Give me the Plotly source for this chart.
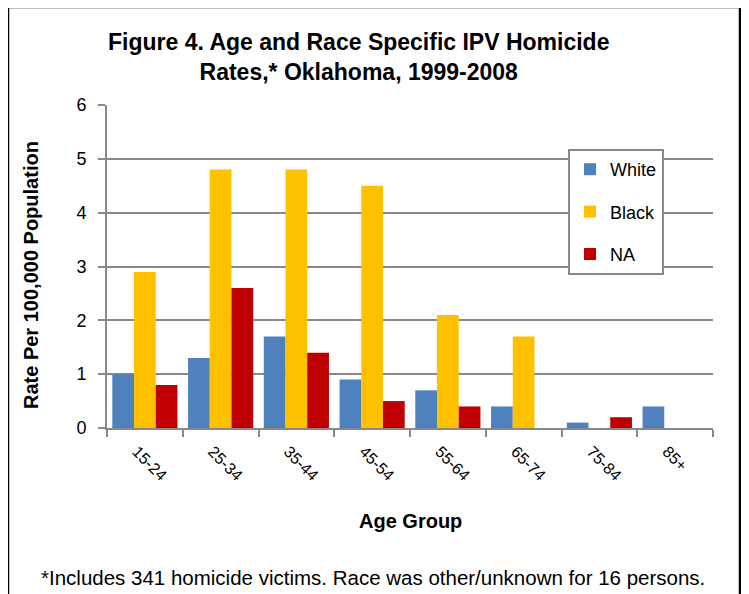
import plotly.graph_objects as go

categories = ["15-24", "25-34", "35-44", "45-54", "55-64", "65-74", "75-84", "85+"]
white = [1.0, 1.3, 1.7, 0.9, 0.7, 0.4, 0.1, 0.4]
black = [2.9, 4.8, 4.8, 4.5, 2.1, 1.7, 0, 0]
na = [0.8, 2.6, 1.4, 0.5, 0.4, 0, 0.2, 0]
series_names = ["White", "Black", "NA"]
series_colors = ["#4F81BD", "#FFC000", "#C00000"]
y_ticks = [0, 1, 2, 3, 4, 5, 6]

FONT = "Liberation Sans Narrow, Arial Narrow, Liberation Sans, Arial, sans-serif"
GRID = "#898989"

fig = go.Figure()
for name, vals, col in zip(series_names, [white, black, na], series_colors):
    fig.add_trace(go.Bar(
        x=categories, y=vals, name=name, legendgroup=name,
        marker=dict(color=col, line=dict(width=0)),
    ))

W, H = 749, 594
OFF = 8  # page body margin offset
L, R, T, B = 107, 713, 105, 428
pw, ph = R - L, B - T

def px(x):
    return (x - L) / pw

def py(y):
    return (B - y) / ph

fig.update_layout(
    width=W, height=H,
    margin=dict(l=L - OFF, r=W - R + OFF, t=T - OFF, b=H - B + OFF),
    paper_bgcolor="white", plot_bgcolor="white",
    font=dict(family=FONT, color="black", size=16),
    barmode="group", bargap=0.14, bargroupgap=0,
    showlegend=True,
    legend=dict(
        x=px(568), y=py(149), xanchor="left", yanchor="top",
        bgcolor="white", bordercolor=GRID, borderwidth=2,
        font=dict(family=FONT, size=18, color="black"),
        traceorder="grouped", tracegroupgap=16, itemwidth=30,
    ),
    xaxis=dict(
        type="category", showline=True, linecolor=GRID, linewidth=2,
        ticks="outside", tickson="boundaries", ticklen=7, tickcolor=GRID, tickwidth=2,
        tickangle=45, tickfont=dict(family=FONT, size=16),
        showgrid=False, ticklabelshift=-8, ticklabelstandoff=6,
    ),
    yaxis=dict(
        range=[0, 6], tickvals=y_ticks, showline=True, linecolor=GRID, linewidth=2,
        ticks="outside", ticklen=7, tickcolor=GRID, tickwidth=2,
        showgrid=True, gridcolor=GRID, gridwidth=2, zeroline=False,
        tickfont=dict(family=FONT, size=18), ticklabelstandoff=8,
    ),
    shapes=[dict(
        type="rect", xref="paper", yref="paper",
        x0=px(8), x1=px(740), y0=py(620), y1=py(7),
        line=dict(color="black", width=2.5), fillcolor="rgba(0,0,0,0)", layer="above",
    )],
    annotations=[
        dict(text="<b>Figure 4. Age and Race Specific IPV Homicide<br>Rates,* Oklahoma, 1999-2008</b>",
             xref="paper", yref="paper", x=px(358), y=py(57), xanchor="center", yanchor="middle",
             showarrow=False, font=dict(family=FONT, size=23, color="black")),
        dict(text="<b>Rate Per 100,000 Population</b>", textangle=-90,
             xref="paper", yref="paper", x=px(31), y=py(275), xanchor="center", yanchor="middle",
             showarrow=False, font=dict(family=FONT, size=20, color="black")),
        dict(text="<b>Age Group</b>",
             xref="paper", yref="paper", x=px(410), y=py(521), xanchor="center", yanchor="middle",
             showarrow=False, font=dict(family=FONT, size=20, color="black")),
        dict(text="*Includes 341 homicide victims. Race was other/unknown for 16 persons.",
             xref="paper", yref="paper", x=px(39), y=py(577), xanchor="left", yanchor="middle",
             showarrow=False, font=dict(family=FONT, size=20.5, color="black")),
    ],
)

fig.write_html("out.html")
